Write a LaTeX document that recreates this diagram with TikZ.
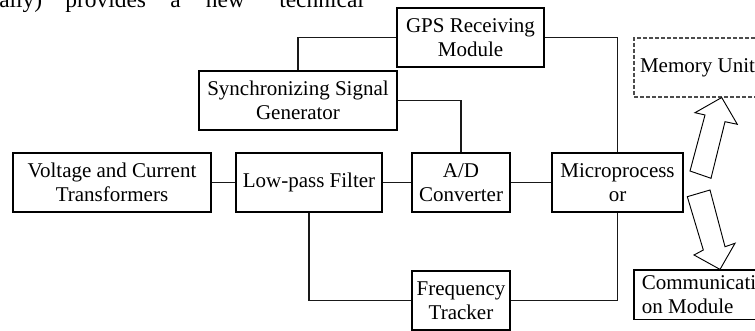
\documentclass[tikz,border=0pt]{standalone}
\usepackage{fontspec}
\setmainfont{Liberation Serif}
\begin{document}
\begin{tikzpicture}[x=0.75pt,y=-0.75pt,
  blk/.style={draw=black, line width=0.9pt, inner sep=0pt, align=center,
    font=\fontsize{15.75}{18}\selectfont},
  wire/.style={draw=black!90, line width=1.3pt},
  hollow/.style={draw=black, line width=0.7pt, line join=miter, fill=white},
  bodytext/.style={anchor=base west, inner sep=0pt, font=\fontsize{17.6}{20}\selectfont}]
\useasboundingbox (0,0) rectangle (755,331);
\clip (0,0) rectangle (755,331);

% running text of the page above the figure
\node[bodytext] (w1) at (-1,8) {ally)};
\node[bodytext] (w2) at (65,8) {provides};
\node[bodytext] (w3) at (170,8) {a};
\node[bodytext] (w4) at (205.5,8) {new};
\node[bodytext] (w5) at (279,8) {technical};

% blocks
\node[blk, minimum width=148.5pt, minimum height=44.25pt] (volt) at (112,182.5) {Voltage and Current\\Transformers};
\node[blk, minimum width=109.5pt, minimum height=44.25pt] (lpf) at (309,182.5) {Low-pass Filter};
\node[blk, minimum width=73.5pt, minimum height=44.25pt] (ad) at (461,182.5) {A/D\\Converter};
\node[blk, minimum width=98.25pt, minimum height=44.25pt] (micro) at (617.5,182.5) {Microprocess\\or};
\node[blk, minimum width=73.5pt, minimum height=44.25pt] (freq) at (461,300.5) {Frequency\\Tracker};
\node[blk, minimum width=148.5pt, minimum height=44.25pt] (sync) at (298,100.5) {Synchronizing Signal\\Generator};
\node[blk, minimum width=110.25pt, minimum height=44.25pt] (gps) at (470.5,37.5) {GPS Receiving\\Module};
\node[blk, draw=black!70, dash pattern=on 3pt off 1.5pt, line width=0.8pt,
  minimum width=95.25pt, minimum height=44.25pt] (mem) at (697.5,67.5) {Memory Unit};
\node[blk, align=left, minimum width=97.5pt, minimum height=37.125pt] (comm) at (699,294.75) {Communicati\\on Module};

% signal wiring
\draw[wire] (volt.east) -- (lpf.west);
\draw[wire] (lpf.east) -- (ad.west);
\draw[wire] (ad.east) -- (micro.west);
\draw[wire] (lpf.south) |- (freq.west);
\draw[wire] (freq.east) -| (micro.south);
\draw[wire] (sync.east) -| (ad.north);
\draw[wire] (sync.north) |- (gps.west);
\draw[wire] (gps.east) -| (micro.north);

% hollow block arrows to storage and communication
\draw[hollow] (690,171) -- (705,115) -- (695,112.7) -- (mem.south -| 721.7,0) -- (737.3,124.3) -- (725,121.7) -- (711,178.3) -- cycle;
\draw[hollow] (687.3,196.7) -- (710,190) -- (725,246.7) -- (735,243.3) -- (comm.north -| 720,0) -- (694,255) -- (703.3,250) -- cycle;
\end{tikzpicture}
\end{document}
